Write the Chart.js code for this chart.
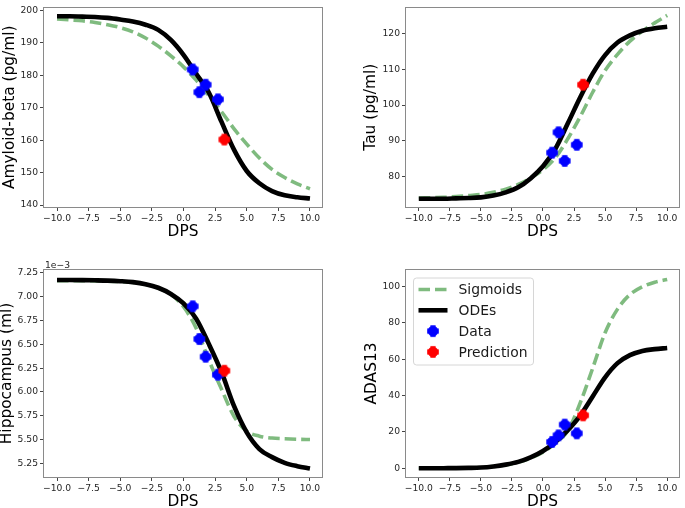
<!DOCTYPE html>
<html>
<head>
<meta charset="utf-8">
<script src="https://cdn.jsdelivr.net/npm/chart.js@4.4.1/dist/chart.umd.min.js"></script>
<style>
  body { margin: 0; background: #fff; width: 685px; height: 508px; position: relative; overflow: hidden; }
  .cell { position: absolute; }
</style>
</head>
<body>
<div class="cell" style="left:0px;top:0px;width:342px;height:254px"><canvas id="amyloidChart"></canvas></div>
<div class="cell" style="left:342px;top:0px;width:343px;height:254px"><canvas id="tauChart"></canvas></div>
<div class="cell" style="left:0px;top:254px;width:342px;height:270px"><canvas id="hippoChart"></canvas></div>
<div class="cell" style="left:342px;top:254px;width:343px;height:270px"><canvas id="adasChart"></canvas></div>
<script>
// ===============================
// Data
// ===============================
const dps = [-10, -9, -8, -7, -6, -5, -4, -3, -2, -1, 0, 1, 2, 3, 4, 5, 6, 7, 8, 9, 10];
const visitDps = [0.73, 1.25, 1.75, 2.72];
const predictionDps = [3.23];
const xTicks = [-10, -7.5, -5, -2.5, 0, 2.5, 5, 7.5, 10];
const seriesNames = ["Sigmoids", "ODEs", "Data", "Prediction"];

const amyloidSigmoid = [197.4, 197.1, 196.8, 196.3, 195.6, 194.7, 193.4, 191.5, 189.0, 186.0, 182.6, 178.5, 173.8, 168.8, 163.5, 158.8, 154.5, 151.0, 148.5, 146.5, 145.0];
const amyloidOde = [198.2, 198.2, 198.1, 198.0, 197.7, 197.2, 196.6, 195.6, 194.0, 190.9, 186.3, 180.5, 174.7, 165.7, 157.0, 150.5, 146.7, 144.3, 143.0, 142.4, 142.0];
const amyloidData = [181.8, 174.8, 177.1, 172.6];
const amyloidPrediction = [160.2];
const amyloidTicks = [140, 150, 160, 170, 180, 190, 200];

const tauSigmoid = [74.0, 74.1, 74.2, 74.4, 74.7, 75.0, 75.6, 76.5, 77.8, 79.6, 81.9, 85.3, 90.6, 96.8, 103.6, 109.7, 114.2, 117.9, 120.7, 123.0, 125.1];
const tauOde = [73.8, 73.8, 73.8, 73.9, 74.0, 74.2, 74.7, 75.6, 77.0, 79.5, 82.9, 87.8, 94.9, 102.2, 108.8, 114.0, 117.5, 119.5, 120.8, 121.5, 121.9];
const tauData = [86.7, 92.4, 84.4, 88.9];
const tauPrediction = [105.7];
const tauTicks = [80, 90, 100, 110, 120];

const hippoSigmoid = [0.007170, 0.007170, 0.007169, 0.007167, 0.007164, 0.007159, 0.007150, 0.007130, 0.007092, 0.007025, 0.006895, 0.006670, 0.006335, 0.006030, 0.005742, 0.005588, 0.005535, 0.005515, 0.005508, 0.005503, 0.005500];
const hippoOde = [0.007176, 0.007176, 0.007175, 0.007173, 0.007170, 0.007164, 0.007154, 0.007133, 0.007095, 0.007030, 0.006930, 0.006770, 0.006505, 0.006210, 0.005850, 0.005575, 0.005400, 0.005315, 0.005255, 0.005220, 0.005195];
const hippoData = [0.006900, 0.006556, 0.006370, 0.006181];
const hippoPrediction = [0.006223];
const hippoTicks = [0.00525, 0.0055, 0.00575, 0.006, 0.00625, 0.0065, 0.00675, 0.007, 0.00725];

const adasSigmoid = [0.0, 0.0, 0.05, 0.1, 0.2, 0.5, 1.0, 1.8, 3.3, 5.6, 8.8, 13.8, 20.6, 36.0, 55.0, 74.5, 87.5, 95.5, 99.8, 102.3, 103.8];
const adasOde = [0.0, 0.0, 0.05, 0.1, 0.2, 0.4, 1.0, 2.0, 3.5, 6.0, 9.5, 14.5, 21.0, 29.0, 39.5, 50.0, 57.8, 62.2, 64.5, 65.5, 66.1];
const adasData = [14.5, 18.1, 24.0, 19.2];
const adasPrediction = [29.1];
const adasTicks = [0, 20, 40, 60, 80, 100];

// ===============================
// Helpers
// ===============================
const FONT = "'DejaVu Sans', sans-serif";
const TITLE_SIZE = 15.4;
const TICK_SIZE = 9.2;

function pts(xs, ys) {
  return xs.map((x, i) => ({ x: x, y: ys[i] }));
}

// filled-plus marker, rounded like the small matplotlib "P"
function markerImage(color) {
  const c = document.createElement("canvas");
  c.width = 14;
  c.height = 14;
  const g = c.getContext("2d");
  g.fillStyle = color;
  g.beginPath();
  g.arc(7, 7, 5.2, 0, Math.PI * 2);
  g.fill();
  g.fillRect(4.4, 1.2, 5.2, 11.6);
  g.fillRect(1.2, 4.4, 11.6, 5.2);
  return c;
}
const blueMarker = markerImage("#0000ff");
const redMarker = markerImage("#ff0000");
const sigmoidColor = "rgba(0,120,0,0.5)";

function fmtX(v) {
  return (v < 0 ? "\u2212" : "") + Math.abs(v).toFixed(1);
}

// box drawn round the plotting area
const framePlugin = {
  id: "frame",
  afterDatasetsDraw(chart) {
    const a = chart.chartArea;
    const ctx = chart.ctx;
    ctx.save();
    ctx.strokeStyle = "#8a8a8a";
    ctx.lineWidth = 1;
    ctx.strokeRect(Math.round(a.left) - 0.5, Math.round(a.top) - 0.5,
      Math.round(a.right - a.left) + 1, Math.round(a.bottom - a.top) + 1);
    ctx.restore();
  }
};

// offset text like matplotlib's "1e-3"
const offsetPlugin = {
  id: "offsetText",
  afterDraw(chart, args, opts) {
    if (!opts.text) return;
    const a = chart.chartArea;
    const ctx = chart.ctx;
    ctx.save();
    ctx.font = TICK_SIZE + "px " + FONT;
    ctx.fillStyle = "#262626";
    ctx.textAlign = "left";
    ctx.textBaseline = "alphabetic";
    ctx.fillText(opts.text, a.left + 1, a.top - 2);
    ctx.restore();
  }
};

// legend box in the upper-left of the plot
const legendPlugin = {
  id: "boxLegend",
  afterDraw(chart, args, opts) {
    if (!opts.show) return;
    const a = chart.chartArea;
    const ctx = chart.ctx;
    const bx = a.left + 7, by = a.top + 7.5, bw = 120, bh = 87;
    ctx.save();
    ctx.fillStyle = "rgba(255,255,255,0.85)";
    ctx.strokeStyle = "#d6d6d6";
    ctx.lineWidth = 1;
    ctx.beginPath();
    ctx.roundRect(bx + 0.5, by + 0.5, bw, bh, 3);
    ctx.fill();
    ctx.stroke();
    ctx.font = "13.9px " + FONT;
    ctx.textBaseline = "middle";
    ctx.fillStyle = "#1a1a1a";
    chart.data.datasets.forEach((ds, i) => {
      const cy = by + 12 + i * 20.8;
      if (ds.showLine) {
        ctx.save();
        ctx.strokeStyle = ds.borderColor;
        ctx.lineWidth = ds.borderWidth;
        ctx.setLineDash(ds.borderDash || []);
        ctx.beginPath();
        ctx.moveTo(bx + 5.5, cy);
        ctx.lineTo(bx + 34.5, cy);
        ctx.stroke();
        ctx.restore();
      } else {
        ctx.drawImage(ds.pointStyle, bx + 20 - 7, cy - 7);
      }
      ctx.fillText(ds.label, bx + 45.5, cy + 1);
    });
    ctx.restore();
  }
};

function makePanel(id, s) {
  const cell = s.cell, box = s.box;
  const lh = TITLE_SIZE * 1.2;
  const yWidth = box.l - cell.left;
  const xHeight = cell.top + cell.h - box.b;
  const yTitlePad = (s.yTitleX - cell.left) - lh / 2;
  const xTitlePad = (cell.top + cell.h - s.xTitleY) - lh / 2;
  const yFmt = s.yFmt || (v => String(v));

  new Chart(document.getElementById(id), {
    type: "scatter",
    data: {
      datasets: [{
        label: seriesNames[0],
        data: pts(dps, s.sig),
        showLine: true,
        borderColor: sigmoidColor,
        borderWidth: 3.6,
        borderDash: [11.5, 5],
        pointRadius: 0,
        cubicInterpolationMode: "monotone",
        order: 4
      }, {
        label: seriesNames[1],
        data: pts(dps, s.ode),
        showLine: true,
        borderColor: "#000000",
        borderWidth: 4.6,
        pointRadius: 0,
        cubicInterpolationMode: "monotone",
        order: 3
      }, {
        label: seriesNames[2],
        data: pts(visitDps, s.obs),
        showLine: false,
        pointStyle: blueMarker,
        pointRadius: 5,
        order: 2
      }, {
        label: seriesNames[3],
        data: pts(predictionDps, s.pred),
        showLine: false,
        pointStyle: redMarker,
        pointRadius: 5,
        order: 1
      }]
    },
    options: {
      responsive: true,
      maintainAspectRatio: false,
      animation: false,
      layout: { padding: { left: 0, top: box.t - cell.top, right: cell.left + cell.w - box.r, bottom: 0 } },
      plugins: {
        legend: { display: false },
        tooltip: { enabled: false },
        offsetText: { text: s.offsetText || "" },
        boxLegend: { show: !!s.legend }
      },
      scales: {
        x: {
          type: "linear",
          min: -11.03,
          max: 10.95,
          afterBuildTicks: sc => { sc.ticks = xTicks.map(v => ({ value: v })); },
          afterFit: sc => { sc.height = xHeight; },
          ticks: {
            autoSkip: false, maxRotation: 0, padding: 2,
            color: "#262626", font: { family: FONT, size: TICK_SIZE },
            callback: v => fmtX(v)
          },
          grid: { drawOnChartArea: false, drawTicks: true, tickLength: 4, color: "#444" },
          border: { display: false },
          title: {
            display: true, text: "DPS", color: "#000",
            font: { family: FONT, size: TITLE_SIZE },
            padding: { top: 0, bottom: xTitlePad }
          }
        },
        y: {
          type: "linear",
          min: s.yMin,
          max: s.yMax,
          afterBuildTicks: sc => { sc.ticks = s.yTicks.map(v => ({ value: v })); },
          afterFit: sc => { sc.width = yWidth; },
          ticks: {
            autoSkip: false, padding: 2,
            color: "#262626", font: { family: FONT, size: TICK_SIZE },
            callback: v => yFmt(v)
          },
          grid: { drawOnChartArea: false, drawTicks: true, tickLength: 4, color: "#444" },
          border: { display: false },
          title: {
            display: true, text: s.yLabel, color: "#000",
            font: { family: FONT, size: TITLE_SIZE },
            padding: { top: yTitlePad, bottom: 0 }
          }
        }
      }
    },
    plugins: [framePlugin, offsetPlugin, legendPlugin]
  });
}

// ===============================
// Panels
// ===============================
makePanel("amyloidChart", {
  sig: amyloidSigmoid, ode: amyloidOde, obs: amyloidData, pred: amyloidPrediction,
  yMin: 139.4, yMax: 200.9, yTicks: amyloidTicks, yLabel: "Amyloid-beta (pg/ml)",
  cell: { left: 0, top: 0, w: 342, h: 254 }, box: { l: 44, t: 1, r: 322, b: 207 },
  yTitleX: 10, xTitleY: 232
});

makePanel("tauChart", {
  sig: tauSigmoid, ode: tauOde, obs: tauData, pred: tauPrediction,
  yMin: 71.5, yMax: 127.3, yTicks: tauTicks, yLabel: "Tau (pg/ml)",
  cell: { left: 342, top: 0, w: 343, h: 254 }, box: { l: 406, t: 1, r: 683, b: 207 },
  yTitleX: 370.5, xTitleY: 232
});

makePanel("hippoChart", {
  sig: hippoSigmoid, ode: hippoOde, obs: hippoData, pred: hippoPrediction,
  yMin: 0.005106, yMax: 0.0072815, yTicks: hippoTicks, yLabel: "Hippocampus (ml)",
  yFmt: v => (v * 1000).toFixed(2), offsetText: "1e\u22123",
  cell: { left: 0, top: 254, w: 342, h: 270 }, box: { l: 44, t: 270, r: 322, b: 477 },
  yTitleX: 6.5, xTitleY: 501.5
});

makePanel("adasChart", {
  sig: adasSigmoid, ode: adasOde, obs: adasData, pred: adasPrediction,
  yMin: -4.8, yMax: 109, yTicks: adasTicks, yLabel: "ADAS13", legend: true,
  cell: { left: 342, top: 254, w: 343, h: 270 }, box: { l: 406, t: 270, r: 683, b: 477 },
  yTitleX: 372, xTitleY: 501.5
});
</script>
</body>
</html>
